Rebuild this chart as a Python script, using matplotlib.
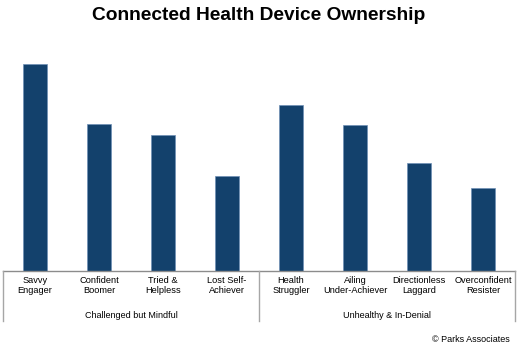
import numpy as np
import matplotlib.pyplot as plt

# segment names and bar heights (no scale shown on the chart, read off as relative heights)
segments = ["Savvy\nEngager", "Confident\nBoomer", "Tried &\nHelpless", "Lost Self-\nAchiever",
            "Health\nStruggler", "Ailing\nUnder-Achiever", "Directionless\nLaggard", "Overconfident\nResister"]
ownership = [207, 147, 136, 95, 166, 146, 108, 83]
groups = ["Challenged but Mindful", "Unhealthy & In-Denial"]
group_size = [4, 4]

BAR_COLOR = "#13416c"
LINE_COLOR = "#a6a6a6"
FONT = ["Liberation Sans", "DejaVu Sans"]

plt.rcParams["font.family"] = FONT

fig = plt.figure(figsize=(5.18, 3.5), dpi=100)
ax = fig.add_axes([3 / 518, (350 - 270.7) / 350, 512 / 518, 220.7 / 350])

x = np.arange(len(segments))
ax.bar(x, ownership, width=0.37, color=BAR_COLOR, edgecolor="#6f90b5", linewidth=0.5)
ax.set_xlim(-0.5, len(segments) - 0.5)
ax.set_ylim(0, 220.7)

for s in ax.spines.values():
    s.set_visible(False)
ax.set_yticks([])
ax.set_xticks(x)
ax.set_xticklabels(segments, fontsize=6.7, linespacing=1.15)
ax.tick_params(axis="x", length=0, pad=4)

trans = ax.get_xaxis_transform()
drop = -50.5 / 220.7
ax.plot([-0.5, len(segments) - 0.5], [0, 0], color="#8c8c8c", lw=1, transform=trans, clip_on=False)

# group brackets
edges = np.concatenate([[0], np.cumsum(group_size)]) - 0.5
for e in edges:
    ax.plot([e, e], [0, drop], color=LINE_COLOR, lw=1, transform=trans, clip_on=False)
for i, g in enumerate(groups):
    mid = (edges[i] + edges[i + 1]) / 2
    ax.text(mid, -45 / 220.7, g, transform=trans, ha="center", va="center", fontsize=6.5)

fig.text(0.5, 1 - 15 / 350, "Connected Health Device Ownership", ha="center", va="center",
         fontsize=13.8, fontweight="bold")
fig.text(510 / 518, 1 - 340 / 350, "\u00a9 Parks Associates", ha="right", va="center", fontsize=6.5)

fig.savefig("out.png", dpi=100)
